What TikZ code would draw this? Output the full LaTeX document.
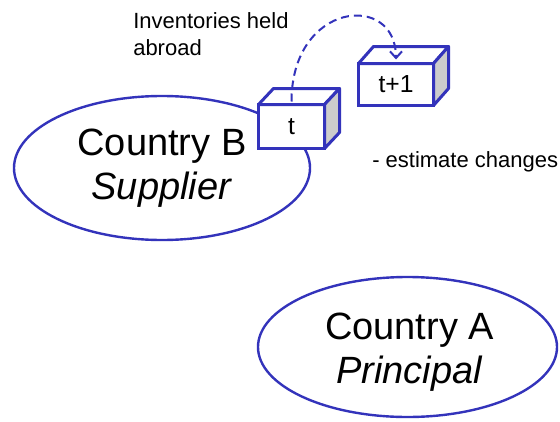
\documentclass[tikz,border=0pt]{standalone}
\usepackage{fontspec}
\setmainfont{Liberation Sans}
\usetikzlibrary{shapes.geometric,arrows.meta}
\definecolor{lineblue}{RGB}{51,51,187}
\def\px{0.75pt}
\def\big{\fontsize{28.5}{33}\selectfont}
\def\small{\fontsize{16.5}{20}\selectfont}
\tikzstyle{country}=[ellipse,draw=lineblue,line width=1.8pt,inner sep=0pt]
\tikzstyle{countrytext}=[align=center,font=\big,inner sep=0pt]
\tikzstyle{box}=[rectangle,draw=lineblue,fill=white,line width=2.25pt,outer sep=0pt,font=\fontsize{18.5}{22}\selectfont]
\tikzstyle{face}=[draw=lineblue,line width=2.25pt,line join=round]
\tikzstyle{note}=[font=\small,align=left,inner sep=0pt]
\tikzstyle{move}=[draw=lineblue,line width=1.5pt,dash pattern=on 6pt off 3.75pt,-{Straight Barb[length=5pt,width=9pt]}]
% top and side of a box: node, depth x, depth y
\newcommand\cubefaces[3]{
	\filldraw[face,fill=white](#1.north west)--++(#2,#3)--([shift={(#2,#3)}]#1.north east)--(#1.north east)--cycle;
	\filldraw[face,fill=gray!40](#1.north east)--++(#2,#3)--([shift={(#2,#3)}]#1.south east)--(#1.south east)--cycle;
}
\begin{document}
\begin{tikzpicture}[x=\px,y=-\px]
			\useasboundingbox (0,0) rectangle (560,421);
			\node[country,minimum width=296*\px,minimum height=144*\px](B) at (162,168){};
			\node[countrytext](Btext) at (B.center){Country B\\\textit{Supplier}};
			\node[country,minimum width=299*\px,minimum height=140*\px](A) at (407.5,347){};
			\node[countrytext](Atext) at ([shift={(2,5)}]A.center){Country A\\\textit{Principal}};
			\node[box,minimum width=66*\px,minimum height=44*\px](t) at (291.5,126.5){t};
			\node[box,minimum width=75*\px,minimum height=42*\px](t1) at (396,84.5){t+1};
			\cubefaces{t}{15}{-16}
			\cubefaces{t1}{15}{-17}
			\node[note,anchor=base west](inv) at (133,55){Inventories held\\abroad};
			\node[note,anchor=base west](est) at (372,167){- estimate changes};
			\coordinate (from) at ([yshift=2.25pt]t.north);
			\coordinate (to) at ([yshift=3pt]t1.north);
			\draw[move](from) .. controls +(0,-100) and +(0,-68) .. (to);
		\end{tikzpicture}
\end{document}
